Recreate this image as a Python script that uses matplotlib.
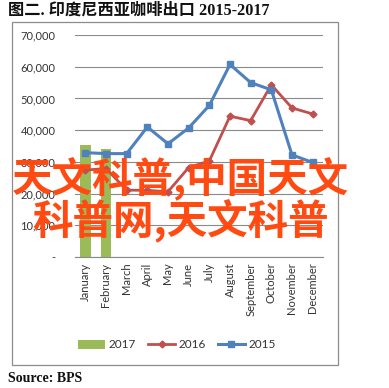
import matplotlib
matplotlib.use("Agg")
import matplotlib.pyplot as plt
from matplotlib.patches import Rectangle
from matplotlib.lines import Line2D
from matplotlib.patches import Patch
import numpy as np

# Data
months = ["January", "February", "March", "April", "May", "June", "July",
          "August", "September", "October", "November", "December"]
exports_2017 = [35300, 34000]
exports_2016 = [27400, 27900, 21100, 21000, 20600, 28200, 30300,
                44400, 43000, 54300, 47000, 45100]
exports_2015 = [32900, 32600, 32600, 41000, 35700, 40700, 47800,
                60700, 55000, 52700, 32200, 29800]
yticks = [0, 10000, 20000, 30000, 40000, 50000, 60000, 70000]
ytick_labels = ["-", "10,000", "20,000", "30,000", "40,000", "50,000", "60,000", "70,000"]

green = "#9BBB59"
red = "#C0504D"
blue = "#4F81BD"

plt.rcParams["font.family"] = ["Lato", "DejaVu Sans"]

fig = plt.figure(figsize=(3.89, 3.88), dpi=100)
fig.patch.set_facecolor("white")

# outer chart frame
fig.patches.append(Rectangle((12 / 389, 1 - 365 / 388), 326 / 389, 343 / 388,
                             transform=fig.transFigure, fill=False,
                             edgecolor="#8c8c8c", linewidth=0.9))

ax = fig.add_axes([75 / 389, 1 - 257 / 388, 248 / 389, 222 / 388])
x = np.arange(len(months))

ax.bar(x[:len(exports_2017)], exports_2017, width=0.53, color=green, zorder=2)
ax.plot(x, exports_2016, color=red, linewidth=2, marker="D", markersize=3.5, zorder=3)
ax.plot(x, exports_2015, color=blue, linewidth=2.2, marker="s", markersize=5, zorder=4)

ax.set_xlim(-0.5, len(months) - 0.5)
ax.set_ylim(0, 70000)
ax.set_yticks(yticks)
ax.set_yticklabels(ytick_labels)
ax.set_xticks(x)
ax.set_xticklabels(months, rotation=90)
ax.yaxis.grid(True, color="#8a8a8a", linewidth=0.8, zorder=0)
ax.set_axisbelow(True)
for side in ["left", "right", "top"]:
    ax.spines[side].set_visible(False)
ax.spines["bottom"].set_color("#8a8a8a")
ax.tick_params(axis="both", length=0, labelsize=8, colors="#333333")
ax.tick_params(axis="y", pad=14)
ax.tick_params(axis="x", pad=4)

handles = [Patch(facecolor=green, label="2017"),
           Line2D([], [], color=red, linewidth=2, marker="D", markersize=3.5, label="2016"),
           Line2D([], [], color=blue, linewidth=2.2, marker="s", markersize=5, label="2015")]
fig.legend(handles=handles, loc="center", bbox_to_anchor=(177 / 389, 1 - 345 / 388),
           ncol=3, frameon=False, fontsize=8.5, handlelength=2.3,
           handletextpad=0.3, columnspacing=1.0, labelcolor="#333333")

fig.text(8 / 389, 1 - 11 / 388, "图二. 印度尼西亚咖啡出口 2015-2017",
         family=["Liberation Serif", "Noto Sans CJK SC"], fontweight="bold",
         fontsize=11.7, va="center", ha="left", color="#111111")
fig.text(8 / 389, 1 - 378 / 388, "Source: BPS", family=["Liberation Serif"],
         fontweight="bold", fontsize=10, va="center", ha="left", color="#111111")

# watermark over the chart
fig.text(180 / 389, 1 - 178 / 388, "天文科普,中国天文", family=["Noto Sans CJK SC"],
         fontweight="bold", fontsize=29.2, color="#FF4A12", ha="center", va="center")
fig.text(180 / 389, 1 - 220 / 388, "科普网,天文科普", family=["Noto Sans CJK SC"],
         fontweight="bold", fontsize=29.2, color="#FF4A12", ha="center", va="center")

fig.savefig("out.png", dpi=100)
